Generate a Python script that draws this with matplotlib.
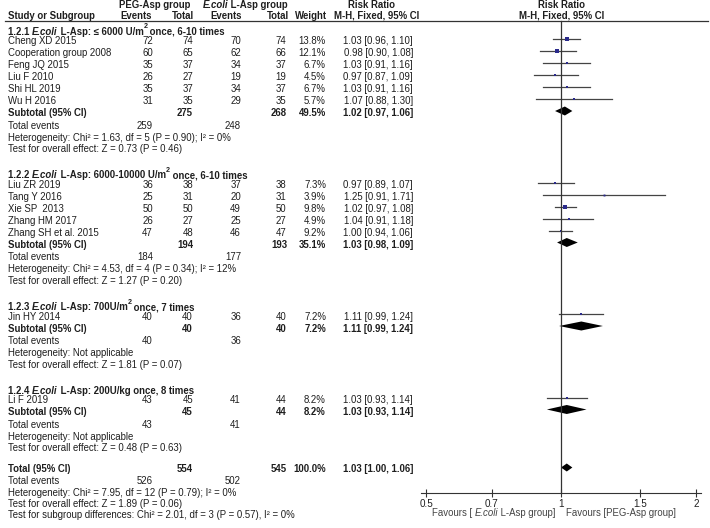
import numpy as np
import matplotlib
matplotlib.use("Agg")
import matplotlib.pyplot as plt

plt.rcParams['font.family'] = ['Liberation Sans', 'DejaVu Sans']
FS = 6.9
TXT = '#1e1e1e'

# ---- data ----
group_titles = [
    ("1.2.1 ", " L-Asp: \u2264 6000 U/m", "2", " once, 6-10 times"),
    ("1.2.2 ", " L-Asp: 6000-10000 U/m", "2", " once, 6-10 times"),
    ("1.2.3 ", " L-Asp: 700U/m", "2", " once, 7 times"),
    ("1.2.4 ", " L-Asp: 200U/kg once, 8 times", "", ""),
]
study_names = [
    ["Cheng XD 2015", "Cooperation group 2008", "Feng JQ 2015", "Liu F 2010", "Shi HL 2019", "Wu H 2016"],
    ["Liu ZR 2019", "Tang Y 2016", "Xie SP  2013", "Zhang HM 2017", "Zhang SH et al. 2015"],
    ["Jin HY 2014"],
    ["Li F 2019"],
]
peg_events = [[72, 60, 35, 26, 35, 31], [36, 25, 50, 26, 47], [40], [43]]
peg_total = [[74, 65, 37, 27, 37, 35], [38, 31, 50, 27, 48], [40], [45]]
ecoli_events = [[70, 62, 34, 19, 34, 29], [37, 20, 49, 25, 46], [36], [41]]
ecoli_total = [[74, 66, 37, 19, 37, 35], [38, 31, 50, 27, 47], [40], [44]]
weights = [[13.8, 12.1, 6.7, 4.5, 6.7, 5.7], [7.3, 3.9, 9.8, 4.9, 9.2], [7.2], [8.2]]
rr = [[1.03, 0.98, 1.03, 0.97, 1.03, 1.07], [0.97, 1.25, 1.02, 1.04, 1.00], [1.11], [1.03]]
rr_lo = [[0.96, 0.90, 0.91, 0.87, 0.91, 0.88], [0.89, 0.91, 0.97, 0.91, 0.94], [0.99], [0.93]]
rr_hi = [[1.10, 1.08, 1.16, 1.09, 1.16, 1.30], [1.07, 1.71, 1.08, 1.18, 1.06], [1.24], [1.14]]

sub_peg_total = [275, 194, 40, 45]
sub_ecoli_total = [268, 193, 40, 44]
sub_weight = [49.5, 35.1, 7.2, 8.2]
sub_rr = [1.02, 1.03, 1.11, 1.03]
sub_lo = [0.97, 0.98, 0.99, 0.93]
sub_hi = [1.06, 1.09, 1.24, 1.14]
sub_peg_events = [259, 184, 40, 43]
sub_ecoli_events = [248, 177, 36, 41]
sub_het = ["Heterogeneity: Chi\u00b2 = 1.63, df = 5 (P = 0.90); I\u00b2 = 0%",
           "Heterogeneity: Chi\u00b2 = 4.53, df = 4 (P = 0.34); I\u00b2 = 12%",
           "Heterogeneity: Not applicable",
           "Heterogeneity: Not applicable"]
sub_test = ["Test for overall effect: Z = 0.73 (P = 0.46)",
            "Test for overall effect: Z = 1.27 (P = 0.20)",
            "Test for overall effect: Z = 1.81 (P = 0.07)",
            "Test for overall effect: Z = 0.48 (P = 0.63)"]

tot_peg_total, tot_ecoli_total = 554, 545
tot_rr, tot_lo, tot_hi = 1.03, 1.00, 1.06
tot_peg_events, tot_ecoli_events = 526, 502
tot_lines = ["Heterogeneity: Chi\u00b2 = 7.95, df = 12 (P = 0.79); I\u00b2 = 0%",
             "Test for overall effect: Z = 1.89 (P = 0.06)",
             "Test for subgroup differences: Chi\u00b2 = 2.01, df = 3 (P = 0.57), I\u00b2 = 0%"]

xticks = [0.5, 0.7, 1, 1.5, 2]
xtick_labels = ["0.5", "0.7", "1", "1.5", "2"]

# ---- figure ----
fig = plt.figure(figsize=(7.1, 5.28), dpi=100)
ax = fig.add_axes([0, 0, 1, 1])
ax.set_xlim(0, 710)
ax.set_ylim(528, 0)
ax.axis('off')

# forest panel, log scale, 0.5 at px 426 and 2 at px 696
px0, px1 = 426, 696
ext = 5
lo_lim = 0.5 * 4 ** (-ext / (px1 - px0))
hi_lim = 2 * 4 ** (ext / (px1 - px0))
fx = fig.add_axes([(px0 - ext) / 710, 0, (px1 - px0 + 2 * ext) / 710, 1])
fx.patch.set_alpha(0)
fx.set_xscale('log')
fx.set_xlim(lo_lim, hi_lim)
fx.set_ylim(528, 0)
for s in ['top', 'left', 'right']:
    fx.spines[s].set_visible(False)
fx.spines['bottom'].set_position(('data', 493))
fx.spines['bottom'].set_color('#333333')
fx.spines['bottom'].set_linewidth(0.8)
fx.set_yticks([])
fx.set_xticks(xticks)
fx.set_xticklabels(xtick_labels)
fx.minorticks_off()
fx.tick_params(axis='x', direction='inout', length=6, width=0.8, color='#333333',
               labelsize=FS + 0.2, labelcolor=TXT, pad=1.5)


def txt(x, y, s, ha='left', bold=False, **kw):
    return ax.text(x, y, s, ha=ha, va='center', fontsize=FS, color=kw.pop('color', TXT),
                   fontweight='bold' if bold else 'normal', **kw)


def chain(x, y, parts, color=TXT):
    # parts: (text, bold, italic, superscript), drawn left to right
    s, b, it, _ = parts[0]
    prev = base = ax.text(x, y, s, va='center', ha='left', fontsize=FS, color=color,
                          fontweight='bold' if b else 'normal',
                          fontstyle='italic' if it else 'normal')
    for s, b, it, sup in parts[1:]:
        if not s:
            continue
        if sup:
            prev = ax.annotate(s, xy=(1, 0.65), xycoords=base, va='bottom', ha='left',
                               fontsize=FS * 0.75, color=color,
                               fontweight='bold' if b else 'normal')
        else:
            prev = base = ax.annotate(s, xy=(1, 0), xycoords=(prev, base), va='bottom',
                                      ha='left', fontsize=FS, color=color,
                                      fontweight='bold' if b else 'normal',
                                      fontstyle='italic' if it else 'normal')
    return prev


def chain_right(x, y, parts, color=TXT):
    # same but right-aligned at x, built from the last piece backwards
    s, b, it, _ = parts[-1]
    prev = ax.text(x, y, s, va='center', ha='right', fontsize=FS, color=color,
                   fontweight='bold' if b else 'normal',
                   fontstyle='italic' if it else 'normal')
    for s, b, it, _ in parts[-2::-1]:
        prev = ax.annotate(s, xy=(0, 0), xycoords=prev, va='bottom', ha='right',
                           fontsize=FS, color=color,
                           fontweight='bold' if b else 'normal',
                           fontstyle='italic' if it else 'normal')
    return prev


def rrtext(r, l, h):
    return f"{r:.2f} [{l:.2f}, {h:.2f}]"


def diamond(r, l, h, y, hh=4.5):
    fx.fill([l, r, h, r], [y, y - hh, y, y + hh], color='black', lw=0)


# headers
txt(155, 5, "PEG-Asp group", ha='center', bold=True)
chain(203, 5, [("E.coli", True, True, False), (" L-Asp group", True, False, False)])
txt(371, 5, "Risk Ratio", ha='center', bold=True)
txt(562, 5, "Risk Ratio", ha='center', bold=True)
txt(8, 16, "Study or Subgroup", bold=True)
txt(136, 16, "Events", ha='center', bold=True)
txt(194, 16, "Total", ha='right', bold=True)
txt(242, 16, "Events", ha='right', bold=True)
txt(289, 16, "Total", ha='right', bold=True)
txt(327, 16, "Weight", ha='right', bold=True)
txt(377, 16, "M-H, Fixed, 95% CI", ha='center', bold=True)
txt(562, 16, "M-H, Fixed, 95% CI", ha='center', bold=True)
ax.plot([5, 708], [21, 21], color='#333333', lw=0.9)

MARK = -2.5
y = 32
for g in range(len(group_titles)):
    a, b, c, d = group_titles[g]
    chain(8, y, [(a, True, False, False), ("E.coli", True, True, False),
                 (b, True, False, False), (c, True, False, True), (d, True, False, False)])
    y += 9.5
    for i, name in enumerate(study_names[g]):
        txt(8, y, name)
        txt(153, y, str(peg_events[g][i]), ha='right')
        txt(193, y, str(peg_total[g][i]), ha='right')
        txt(241, y, str(ecoli_events[g][i]), ha='right')
        txt(286, y, str(ecoli_total[g][i]), ha='right')
        txt(326, y, f"{weights[g][i]:.1f}%", ha='right')
        txt(413, y, rrtext(rr[g][i], rr_lo[g][i], rr_hi[g][i]), ha='right')
        fx.plot([rr_lo[g][i], rr_hi[g][i]], [y + MARK] * 2, color='#444444', lw=0.9)
        fx.plot(rr[g][i], y + MARK, 's', color='#2b2b8c', mew=0,
                ms=0.7 * np.sqrt(weights[g][i]))
        y += 12
    txt(8, y, "Subtotal (95% CI)", bold=True)
    txt(193, y, str(sub_peg_total[g]), ha='right', bold=True)
    txt(287, y, str(sub_ecoli_total[g]), ha='right', bold=True)
    txt(326, y, f"{sub_weight[g]:.1f}%", ha='right', bold=True)
    txt(413, y, rrtext(sub_rr[g], sub_lo[g], sub_hi[g]), ha='right', bold=True)
    diamond(sub_rr[g], sub_lo[g], sub_hi[g], y + MARK)
    y += 12.5
    txt(8, y, "Total events")
    txt(153, y, str(sub_peg_events[g]), ha='right')
    txt(241, y, str(sub_ecoli_events[g]), ha='right')
    y += 12
    txt(8, y, sub_het[g])
    y += 11.5
    txt(8, y, sub_test[g])
    y += 26

y += -26 + 21
txt(8, y, "Total (95% CI)", bold=True)
txt(193, y, str(tot_peg_total), ha='right', bold=True)
txt(287, y, str(tot_ecoli_total), ha='right', bold=True)
txt(326, y, "100.0%", ha='right', bold=True)
txt(413, y, rrtext(tot_rr, tot_lo, tot_hi), ha='right', bold=True)
diamond(tot_rr, tot_lo, tot_hi, y - 1.5, hh=4)
y += 12
txt(8, y, "Total events")
txt(153, y, str(tot_peg_events), ha='right')
txt(241, y, str(tot_ecoli_events), ha='right')
for line in tot_lines:
    y += 11.5
    txt(8, y, line)

# line of no effect
fx.plot([1, 1], [21, 493], color='#333333', lw=0.9)

# favours labels
chain_right(556, 513, [("Favours [ ", False, False, False), ("E.coli", False, True, False),
                       (" L-Asp group]", False, False, False)], color='#444444')
txt(566, 513, "Favours [PEG-Asp group]", color='#444444')

fig.savefig("out.png", dpi=100)
